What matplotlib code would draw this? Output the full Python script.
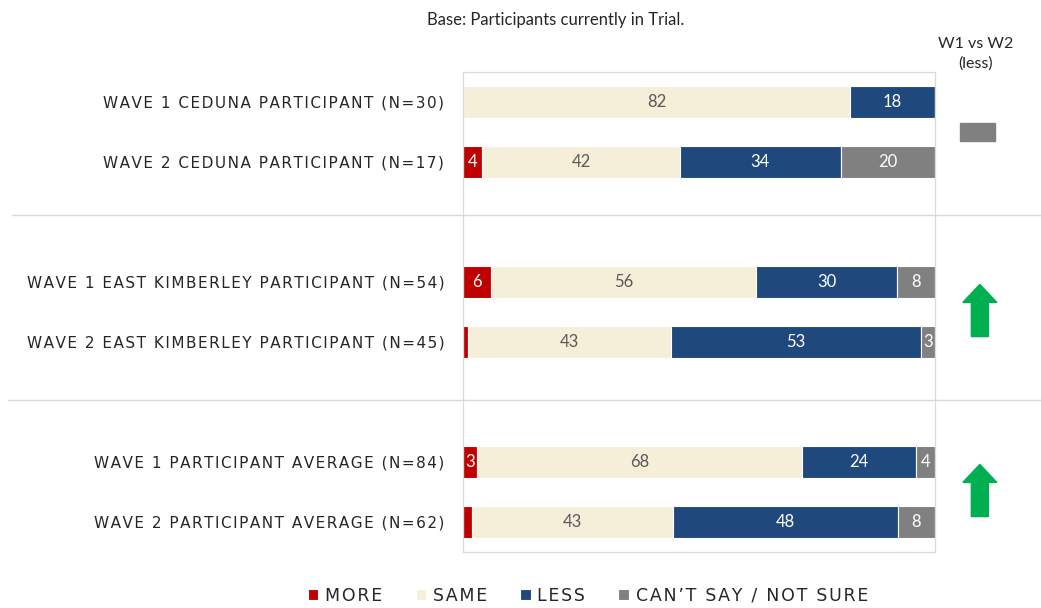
import numpy as np
import matplotlib
matplotlib.use("Agg")
from matplotlib import pyplot as plt
from matplotlib import transforms
from matplotlib.lines import Line2D
from matplotlib.patches import Polygon, Rectangle

# data
categories = ["WAVE 1 CEDUNA PARTICIPANT (N=30)",
              "WAVE 2 CEDUNA PARTICIPANT (N=17)",
              "WAVE 1 EAST KIMBERLEY PARTICIPANT (N=54)",
              "WAVE 2 EAST KIMBERLEY PARTICIPANT (N=45)",
              "WAVE 1 PARTICIPANT AVERAGE (N=84)",
              "WAVE 2 PARTICIPANT AVERAGE (N=62)"]
more = [0, 4, 6, 1, 3, 2]
same = [82, 42, 56, 43, 68, 43]
less = [18, 34, 30, 53, 24, 48]
cant_say = [0, 20, 8, 3, 4, 8]
series_names = ["MORE", "SAME", "LESS", "CAN\u2019T SAY / NOT SURE"]
change = ["same", "up", "up"]   # W1 vs W2 (less), one per site

colors = ["#C00000", "#F5EFDA", "#1F497D", "#808080"]
text_colors = ["white", "#595959", "white", "white"]
ypos = [0, 1, 3, 4, 6, 7]
sep_y = [1.88, 4.97]
grid_col = "#D9D9D9"


def spaced(s):
    # fake the letter spacing of the original labels
    return "\u200a".join(s)


fig = plt.figure(figsize=(10.41, 6.08), dpi=100)
ax = fig.add_axes([463/1041, 1-552/608, 472/1041, 480/608])

# 100% stacked: each row is scaled to its own total
series = np.array([more, same, less, cant_say], dtype=float)
shares = series / series.sum(axis=0) * 100

left = np.zeros(len(categories))
for vals, raw, col, tcol, name in zip(shares, series, colors, text_colors, series_names):
    ax.barh(ypos, vals, left=left, height=0.53, color=col, edgecolor="white",
            linewidth=0.8, label=spaced(name))
    for y, l, v, r in zip(ypos, left, vals, raw):
        if r >= 3:
            ax.text(l + v/2, y, f"{r:.0f}", ha="center", va="center",
                    color=tcol, fontsize=12, family="Lato")
    left += vals

ax.set_xlim(0, 100)
ax.set_ylim(7.5, -0.5)
ax.set_yticks(ypos)
ax.set_yticklabels([spaced(c) for c in categories], fontsize=11, color="#262626")
ax.tick_params(axis="y", length=0, pad=13.5)
ax.set_xticks([])
for s in ax.spines.values():
    s.set_color(grid_col)
    s.set_linewidth(0.9)

# separators between sites, spanning the whole width
trans = transforms.blended_transform_factory(fig.transFigure, ax.transData)
for y, x0 in zip(sep_y, [12/1041, 8/1041]):
    fig.add_artist(Line2D([x0, 1.0], [y, y], transform=trans, color=grid_col, lw=1))

# W1 vs W2 column
ax.text(108.6, -0.52, "W1 vs W2\n(less)", ha="center", va="bottom",
        fontsize=11.5, family="Lato", color="#262626", linespacing=1.5)
green = "#00B050"
for i, c in enumerate(change):
    yc = (ypos[2*i] + ypos[2*i+1]) / 2
    if c == "same":
        ax.add_patch(Rectangle((105.3, yc - 0.15), 7.4, 0.3, color="#808080", clip_on=False))
    else:
        xc, top, bot = 109.5, yc - 0.46, yc + 0.41
        hw, sw, hl = 3.6, 1.8, 0.3
        pts = [(xc, top), (xc + hw, top + hl), (xc + sw, top + hl), (xc + sw, bot),
               (xc - sw, bot), (xc - sw, top + hl), (xc - hw, top + hl)]
        ax.add_patch(Polygon(pts, closed=True, color=green, clip_on=False))

fig.text(556/1041, 1-20/608, "Base: Participants currently in Trial.", ha="center",
         va="center", fontsize=12, family="Lato", color="#262626")

handles, labels = ax.get_legend_handles_labels()
fig.legend(handles, labels, loc="center", bbox_to_anchor=(588/1041, 1-596/608), ncol=4,
           frameon=False, fontsize=12.5, handlelength=0.6, handleheight=0.6,
           handletextpad=0.4, columnspacing=1.9, labelcolor="#262626")

fig.savefig("out.png", dpi=100)
